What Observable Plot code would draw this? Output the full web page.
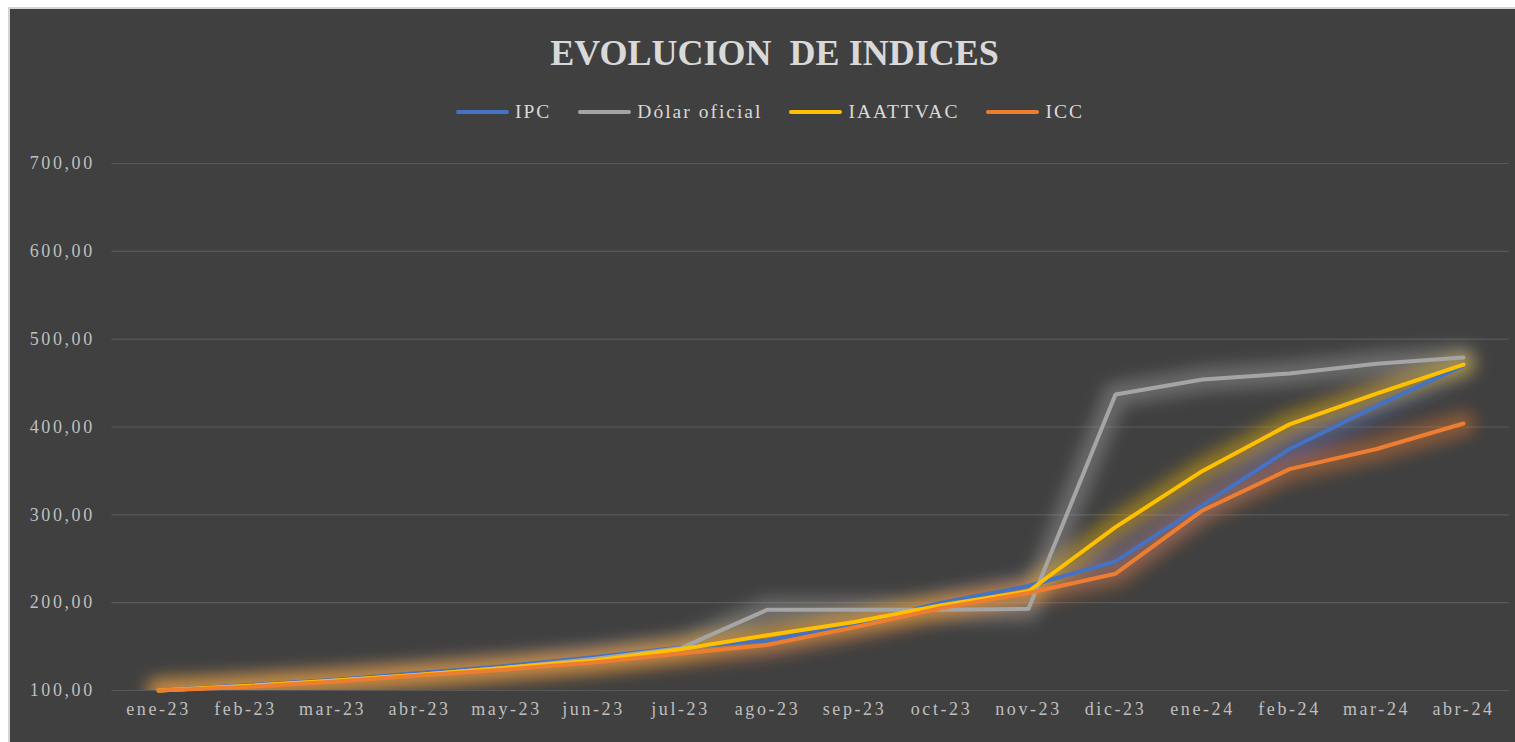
<!DOCTYPE html>
<html>
<head>
<meta charset="utf-8">
<script src="https://cdn.jsdelivr.net/npm/d3@7"></script>
<script src="https://cdn.jsdelivr.net/npm/@observablehq/plot@0.6"></script>
<style>
  html, body { margin: 0; padding: 0; background: #ffffff; width: 1515px; height: 742px; overflow: hidden; }
  #frame { position: absolute; left: 8px; top: 7px; width: 1515px; height: 740px;
           border-left: 2px solid #d4d4d4; border-top: 2px solid #d4d4d4; background: #404040; overflow: hidden;
           font-family: "Liberation Serif", "Times New Roman", serif; }
  #title { position: absolute; left: 0; width: 1529px; top: 24px; text-align: center;
           font-size: 36px; line-height: 40px; font-weight: bold; color: #d9d9d9; white-space: pre; }
  #legend { position: absolute; left: 446px; top: 91px; height: 24px; display: flex; align-items: center;
            font-size: 19.5px; letter-spacing: 2px; color: #d9d9d9; white-space: pre; }
  .item { display: flex; align-items: center; margin-right: 27px; }
  .sw { width: 53px; height: 4px; border-radius: 2px; margin-right: 6px; }
  #chart { position: absolute; left: 0; top: 131px; }
</style>
</head>
<body>
<div id="frame">
  <div id="title">EVOLUCION  DE INDICES</div>
  <div id="legend"></div>
  <div id="chart"></div>
</div>
<script>
const months = ["ene-23","feb-23","mar-23","abr-23","may-23","jun-23","jul-23","ago-23","sep-23","oct-23","nov-23","dic-23","ene-24","feb-24","mar-24","abr-24"];
const seriesNames = ["IPC","Dólar oficial","IAATTVAC","ICC"];
const seriesColors = ["#4472C4","#A5A5A5","#FFC000","#ED7D31"];
const ipc      = [100,106,112,120,128,138,149,157,176,200,219,247,311,375,424,470];
const dolar    = [100,105,111,118,126,136,148,192,192,192,193,437,454,461,472,479];
const iaattvac = [100,105,111,118,126,134,147,163,178,197,213,286,350,403,438,471];
const icc      = [100,104,110,117,124,132,142,152,172,194,211,233,305,352,375,404];
const yTicks = [100,200,300,400,500,600,700];

const seriesValues = [ipc, dolar, iaattvac, icc];
const data = [];
seriesNames.forEach((name, i) => {
  months.forEach((m, j) => data.push({series: name, month: m, value: seriesValues[i][j]}));
});

// legend
const legend = document.getElementById("legend");
seriesNames.forEach((name, i) => {
  const it = document.createElement("div");
  it.className = "item";
  const sw = document.createElement("span");
  sw.className = "sw";
  sw.style.background = seriesColors[i];
  const tx = document.createElement("span");
  tx.textContent = name;
  it.appendChild(sw); it.appendChild(tx);
  legend.appendChild(it);
});

const fmt = d => d.toFixed(2).replace(".", ",");

const chart = Plot.plot({
  width: 1505,
  height: 602,
  marginLeft: 101.3,
  marginRight: 6.3,
  marginTop: 23,
  marginBottom: 52,
  style: "background:transparent;color:#bfbfbf;font-family:'Liberation Serif','Times New Roman',serif;font-size:18px;letter-spacing:2.6px;",
  x: {type: "point", domain: months, padding: 0.5, tickSize: 0, tickPadding: 12, label: null},
  y: {domain: [100, 700], ticks: yTicks, tickSize: 0, tickPadding: 17, tickFormat: fmt, label: null},
  color: {domain: seriesNames, range: seriesColors},
  marks: [
    Plot.ruleY(yTicks, {stroke: "#595959", strokeWidth: 1.2}),
    Plot.line(data, {x: "month", y: "value", z: "series", stroke: "series", strokeWidth: 24, strokeOpacity: 0.42, clip: true}),
    Plot.line(data, {x: "month", y: "value", z: "series", stroke: "series", strokeWidth: 4, strokeLinecap: "round", strokeLinejoin: "round"})
  ]
});

// glow: blur the wide underlay lines
const ns = "http://www.w3.org/2000/svg";
const defs = document.createElementNS(ns, "defs");
const filt = document.createElementNS(ns, "filter");
filt.setAttribute("id", "glowblur");
filt.setAttribute("x", "-20%"); filt.setAttribute("y", "-20%");
filt.setAttribute("width", "140%"); filt.setAttribute("height", "140%");
const blur = document.createElementNS(ns, "feGaussianBlur");
blur.setAttribute("stdDeviation", "8");
filt.appendChild(blur);
defs.appendChild(filt);
chart.insertBefore(defs, chart.firstChild);
const lineGroups = chart.querySelectorAll('g[aria-label="line"]');
if (lineGroups.length) {
  const g = lineGroups[0];
  const inner = document.createElementNS(ns, "g");
  while (g.firstChild) inner.appendChild(g.firstChild);
  inner.setAttribute("filter", "url(#glowblur)");
  g.appendChild(inner);
}
document.getElementById("chart").appendChild(chart);
</script>
</body>
</html>
